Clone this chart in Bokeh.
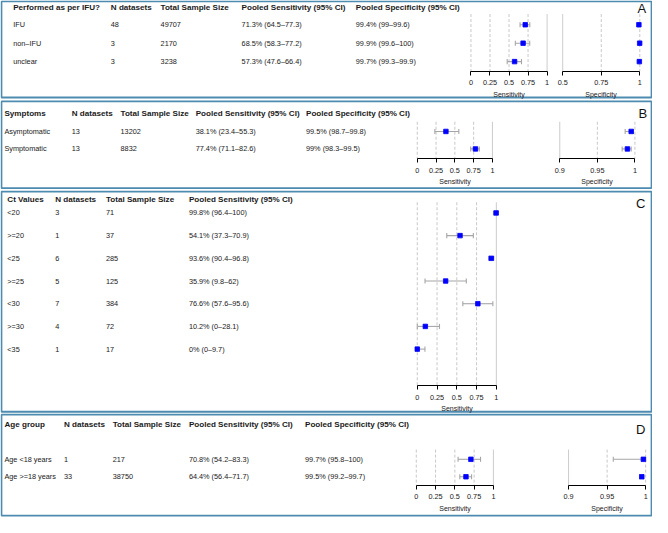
from bokeh.plotting import figure
from bokeh.models import Range1d, LinearAxis, FixedTicker
from bokeh.core.properties import value
from bokeh.embed import file_html
from bokeh.resources import INLINE

# ---------------- data ----------------
# Panel A: performed as per IFU
ifu_groups = ["IFU", "non\u2013IFU", "unclear"]
ifu_n = [48, 3, 3]
ifu_total = [49707, 2170, 3238]
ifu_sens = [71.3, 68.5, 57.3]
ifu_sens_lo = [64.5, 58.3, 47.6]
ifu_sens_hi = [77.3, 77.2, 66.4]
ifu_spec = [99.4, 99.9, 99.7]
ifu_spec_lo = [99.0, 99.6, 99.3]
ifu_spec_hi = [99.6, 100.0, 99.9]

# Panel B: symptoms
sym_groups = ["Asymptomatic", "Symptomatic"]
sym_n = [13, 13]
sym_total = [13202, 8832]
sym_sens = [38.1, 77.4]
sym_sens_lo = [23.4, 71.1]
sym_sens_hi = [55.3, 82.6]
sym_spec = [99.5, 99.0]
sym_spec_lo = [98.7, 98.3]
sym_spec_hi = [99.8, 99.5]

# Panel C: Ct values
ct_groups = ["<20", ">=20", "<25", ">=25", "<30", ">=30", "<35"]
ct_n = [3, 1, 6, 5, 7, 4, 1]
ct_total = [71, 37, 285, 125, 384, 72, 17]
ct_sens = [99.8, 54.1, 93.6, 35.9, 76.6, 10.2, 0.0]
ct_sens_lo = [96.4, 37.3, 90.4, 9.8, 57.6, 0.0, 0.0]
ct_sens_hi = [100.0, 70.9, 96.8, 62.0, 95.6, 28.1, 9.7]

# Panel D: age group
age_groups = ["Age <18 years", "Age >=18 years"]
age_n = [1, 33]
age_total = [217, 38750]
age_sens = [70.8, 64.4]
age_sens_lo = [54.2, 56.4]
age_sens_hi = [83.3, 71.7]
age_spec = [99.7, 99.5]
age_spec_lo = [95.8, 99.2]
age_spec_hi = [100.0, 99.7]

# tick values / labels
sens_ticks = [0, 0.25, 0.5, 0.75, 1]
sens_tick_labels = ["0", "0.25", "0.5", "0.75", "1"]
spec_ticks_a = [0.5, 0.75, 1]
spec_tick_labels_a = ["0.5", "0.75", "1"]
spec_ticks_bd = [0.9, 0.95, 1]
spec_tick_labels_bd = ["0.9", "0.95", "1"]

common_headers = ["N datasets", "Total Sample Size", "Pooled Sensitivity (95% CI)",
                  "Pooled Specificity (95% CI)"]

# ---------------- figure ----------------
REF_W, REF_H = 668, 533
p = figure(width=652, height=517, x_range=Range1d(0, REF_W), y_range=Range1d(REF_H, 0),
           output_backend="svg", toolbar_location=None,
           x_axis_location=None, y_axis_location=None, min_border=0)
p.outline_line_color = None
p.grid.visible = False
p.background_fill_color = "white"
p.border_fill_color = "white"

FONT = "Liberation Sans"
BORDER = "#4e8bb0"
TXT = "#1a1a1a"


def fmt(v):
    return f"{v:g}"


def ci_text(v, lo, hi):
    return [f"{fmt(a)}% ({fmt(b)}\u2013{fmt(c)})" for a, b, c in zip(v, lo, hi)]


def box(l, r, t, b):
    p.quad(left=[l], right=[r], top=[t], bottom=[b], fill_color=None,
           line_color=BORDER, line_width=1.8)


def table(cols, header_y, headers, rows_y, columns):
    p.text(x=cols[:len(headers)], y=[header_y] * len(headers), text=headers,
           text_font=value(FONT), text_font_size=value("8.1px"), text_font_style="bold",
           text_color=TXT, text_baseline="middle", text_align="left")
    for x, col in zip(cols, columns):
        p.text(x=[x] * len(col), y=rows_y, text=[str(c) for c in col],
               text_font=value(FONT), text_font_size=value("7.3px"),
               text_color=TXT, text_baseline="middle", text_align="left")


def letter(x, y, s):
    p.text(x=[x], y=[y], text=[s], text_font=value(FONT), text_font_size=value("13px"),
           text_color="#111111", text_baseline="middle", text_align="center")


def forest(name, px0, px1, ticks, labels, title, ys, est, lo, hi, axis_y, grid_top, solid_first):
    v0, v1 = ticks[0], ticks[-1]
    k = (v1 - v0) / (px1 - px0)
    p.extra_x_ranges = {**p.extra_x_ranges,
                        name: Range1d(v0 - px0 * k, v0 + (REF_W - px0) * k)}
    solid = ticks[0] if solid_first else ticks[-1]
    dashed = [t for t in ticks if t != solid]
    p.segment(x0=dashed, y0=[grid_top] * len(dashed), x1=dashed, y1=[axis_y] * len(dashed),
              x_range_name=name, line_color="#c8c8c8", line_dash="3 2", line_width=1)
    p.segment(x0=[solid], y0=[grid_top], x1=[solid], y1=[axis_y],
              x_range_name=name, line_color="#cccccc", line_width=1)
    e = [v / 100 for v in est]
    l = [v / 100 for v in lo]
    h = [v / 100 for v in hi]
    p.segment(x0=l, y0=ys, x1=h, y1=ys, x_range_name=name, line_color="#a6a6a6", line_width=1.1)
    cap = 2.6
    for xs in (l, h):
        p.segment(x0=xs, y0=[y - cap for y in ys], x1=xs, y1=[y + cap for y in ys],
                  x_range_name=name, line_color="#a6a6a6", line_width=1.1)
    p.scatter(x=e, y=ys, marker="square", size=4.5, fill_color="#0000ff",
              line_color="#0000ff", line_width=0.8, x_range_name=name)
    ax = LinearAxis(x_range_name=name, fixed_location=axis_y, bounds=(v0, v1),
                    ticker=FixedTicker(ticks=ticks, minor_ticks=[]),
                    major_label_overrides=dict(zip(ticks, labels)), axis_label=title)
    ax.axis_line_color = "black"
    ax.axis_line_width = 1
    ax.major_tick_in = 0
    ax.major_tick_out = 4
    ax.minor_tick_in = 0
    ax.minor_tick_out = 0
    ax.major_tick_line_color = "black"
    ax.major_label_text_font = FONT
    ax.major_label_text_font_size = "7.3px"
    ax.major_label_text_color = TXT
    ax.major_label_standoff = 5
    ax.axis_label_text_font = FONT
    ax.axis_label_text_font_size = "7px"
    ax.axis_label_text_font_style = "normal"
    ax.axis_label_text_color = TXT
    ax.axis_label_standoff = 2
    p.add_layout(ax, "below")


def rows(y0, step, n):
    return [y0 + i * step for i in range(n)]


# ---------------- Panel A ----------------
box(1, 667, 1, 100)
ya = rows(25, 19, len(ifu_groups))
table([13, 113, 164, 247, 364], 7, ["Performed as per IFU?"] + common_headers, ya,
      [ifu_groups, ifu_n, ifu_total, ci_text(ifu_sens, ifu_sens_lo, ifu_sens_hi),
       ci_text(ifu_spec, ifu_spec_lo, ifu_spec_hi)])
forest("a_sens", 482, 560, sens_ticks, sens_tick_labels, "Sensitivity", ya,
       ifu_sens, ifu_sens_lo, ifu_sens_hi, 73, 14, False)
forest("a_spec", 576, 655, spec_ticks_a, spec_tick_labels_a, "Specificity", ya,
       ifu_spec, ifu_spec_lo, ifu_spec_hi, 73, 14, True)
letter(657, 8, "A")

# ---------------- Panel B ----------------
box(1, 667, 104, 193.5)
yb = rows(135, 18, len(sym_groups))
table([4, 73, 123, 200, 313], 116, ["Symptoms"] + common_headers, yb,
      [sym_groups, sym_n, sym_total, ci_text(sym_sens, sym_sens_lo, sym_sens_hi),
       ci_text(sym_spec, sym_spec_lo, sym_spec_hi)])
forest("b_sens", 427, 504, sens_ticks, sens_tick_labels, "Sensitivity", yb,
       sym_sens, sym_sens_lo, sym_sens_hi, 163, 125, False)
forest("b_spec", 573, 650, spec_ticks_bd, spec_tick_labels_bd, "Specificity", yb,
       sym_spec, sym_spec_lo, sym_spec_hi, 163, 125, True)
letter(658, 116, "B")

# ---------------- Panel C ----------------
box(1, 667, 197, 424)
yc = rows(219, 23.4, len(ct_groups))
table([7, 56, 108, 193], 205, ["Ct Values"] + common_headers[:3], yc,
      [ct_groups, ct_n, ct_total, ci_text(ct_sens, ct_sens_lo, ct_sens_hi)])
forest("c_sens", 427, 508, sens_ticks, sens_tick_labels, "Sensitivity", yc,
       ct_sens, ct_sens_lo, ct_sens_hi, 397, 208, False)
letter(656, 209, "C")

# ---------------- Panel D ----------------
box(1, 667, 427, 531)
yd = rows(473, 18, len(age_groups))
table([4, 65, 115, 193, 312], 437, ["Age group"] + common_headers, yd,
      [age_groups, age_n, age_total, ci_text(age_sens, age_sens_lo, age_sens_hi),
       ci_text(age_spec, age_spec_lo, age_spec_hi)])
forest("d_sens", 426, 505, sens_ticks, sens_tick_labels, "Sensitivity", yd,
       age_sens, age_sens_lo, age_sens_hi, 500, 463, False)
forest("d_spec", 582, 661, spec_ticks_bd, spec_tick_labels_bd, "Specificity", yd,
       age_spec, age_spec_lo, age_spec_hi, 500, 463, True)
letter(656, 442, "D")

open("out.html", "w").write(file_html(p, INLINE))
